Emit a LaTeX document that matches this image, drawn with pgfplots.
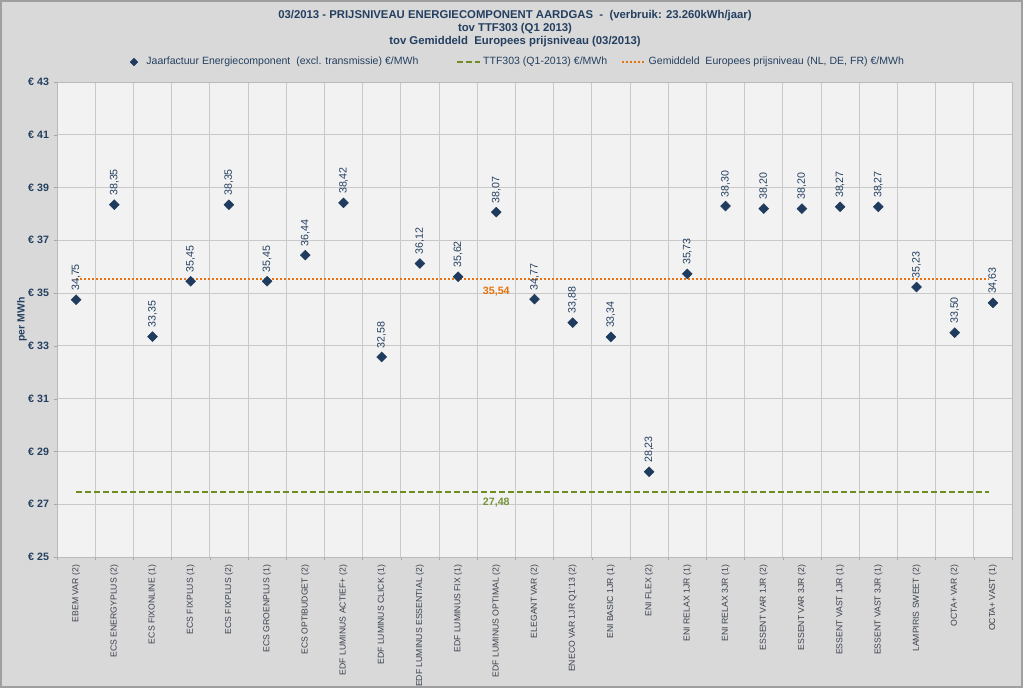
\documentclass[border=0pt]{standalone}
\usepackage{fontspec}
\setmainfont{Liberation Sans}
\usepackage{pgfplots}
\pgfplotsset{compat=1.18}
\definecolor{bgout}{HTML}{D9D9D9}
\definecolor{plotbg}{HTML}{F2F2F2}
\definecolor{gridc}{HTML}{C9C9C9}
\definecolor{navy}{HTML}{1F3B5E}
\definecolor{txt}{HTML}{243F60}
\definecolor{lbl}{HTML}{3A404C}
\definecolor{orng}{HTML}{E8720C}
\definecolor{ttfgreen}{HTML}{6F8B22}
\definecolor{ttflabel}{HTML}{77933C}
\begin{document}
\begin{tikzpicture}
\fill[bgout] (0,0) rectangle (767.25pt,516pt);
\draw[gray!75, line width=1.5pt] (0.75pt,0.75pt) rectangle (766.5pt,515.25pt);
\node[font=\bfseries\fontsize{8.5}{9.75}\selectfont, text=txt, align=center] at (386.25pt,494.25pt)
 {03/2013 - PRIJSNIVEAU ENERGIECOMPONENT AARDGAS \ - \ (verbruik: 23.260kWh/jaar)\\tov TTF303 (Q1 2013)\\tov Gemiddeld \ Europees prijsniveau (03/2013)};
\begin{axis}[
 at={(42.75pt,98.25pt)}, anchor=south west,
 scale only axis, width=716.25pt, height=356.25pt,
 xmin=-0.5, xmax=24.5, ymin=25, ymax=43,
 axis background/.style={fill=plotbg},
 /pgf/number format/assume math mode=true,
 ytick={25,27,...,43},
 yticklabel={\textbf{€ \pgfmathprintnumber{\tick}}},
 yticklabel style={font=\fontsize{8}{9}\selectfont, text=txt},
 ymajorgrids,
 major grid style={gridc, line width=0.6pt},
 minor grid style={gridc, line width=0.6pt},
 xtick={0,...,24},
 xticklabels={EBEM VAR (2),ECS ENERGYPLUS (2),ECS FIXONLINE (1),ECS FIXPLUS (1),ECS FIXPLUS (2),ECS GROENPLUS (1),ECS OPTIBUDGET (2),EDF LUMINUS ACTIEF+ (2),EDF LUMINUS CLICK (1),EDF LUMINUS ESSENTIAL (2),EDF LUMINUS FIX (1),EDF LUMINUS OPTIMAL (2),ELEGANT VAR (2),ENECO VAR 1JR Q1'13 (2),ENI BASIC 1JR (1),ENI FLEX (2),ENI RELAX 1JR (1),ENI RELAX 3JR (1),ESSENT VAR 1JR (2),ESSENT VAR 3JR (2),ESSENT VAST 1JR (1),ESSENT VAST 3JR (1),LAMPIRIS SWEET (2),OCTA+ VAR (2),OCTA+ VAST (1)},
 x tick label style={rotate=90, anchor=east, font=\fontsize{6.5}{7.5}\selectfont, text=lbl},
 major x tick style={draw=none},
 minor xtick={-0.5,0.5,...,24.5},
 xminorgrids,
 xtick pos=bottom, ytick pos=left,
 tick align=outside,
 major tick length=2.5pt, minor tick length=2.5pt,
 tick style={gray!70},
 axis line style={gray!55},
 ylabel={per MWh},
 ylabel style={font=\bfseries\fontsize{7.8}{9}\selectfont, text=txt, at={(axis description cs:-0.0366,0.5)}, anchor=center},
 legend columns=3,
 legend style={draw=none, fill=none, at={(0.483,1.042)}, anchor=center,
   font=\fontsize{7.9}{9}\selectfont, text=txt,
   /tikz/column 2/.style={column sep=26pt},
   /tikz/column 4/.style={column sep=8.5pt}},
]
\addlegendimage{legend image code/.code={\path (-0.05cm,0) (0.3cm,0);
   \path[mark=square*, mark size=2pt, mark options={rotate=45, fill=navy, draw=navy}] plot coordinates {(0.05cm,0cm)};}}
\addlegendentry{Jaarfactuur Energiecomponent \ (excl. transmissie) €/MWh}
\addplot[draw=ttfgreen, line width=1.5pt, dash pattern=on 4.5pt off 2.25pt] coordinates {(0,27.48) (23.9,27.48)};
\addlegendentry{TTF303 (Q1-2013) €/MWh}
\addplot[draw=orng, line width=1.5pt, dash pattern=on 1.5pt off 1.5pt] coordinates {(0,35.54) (23.9,35.54)};
\addlegendentry{Gemiddeld \ Europees prijsniveau (NL, DE, FR) €/MWh}
\addplot[forget plot, only marks, mark=square*, mark size=2.6pt, mark options={rotate=45, fill=navy, draw=navy},
 nodes near coords={\pgfmathprintnumber[fixed,fixed zerofill,precision=2,use comma,assume math mode=true]{\pgfplotspointmeta}},
 every node near coord/.append style={rotate=90, anchor=west, inner xsep=6.5pt, inner ysep=0pt, font=\fontsize{8}{9}\selectfont, text=txt}]
 coordinates {
 (0,34.75) (1,38.35) (2,33.35) (3,35.45) (4,38.35) (5,35.45) (6,36.44) (7,38.42) (8,32.58) (9,36.12)
 (10,35.62) (11,38.07) (12,34.77) (13,33.88) (14,33.34) (15,28.23) (16,35.73) (17,38.30) (18,38.20) (19,38.20)
 (20,38.27) (21,38.27) (22,35.23) (23,33.50) (24,34.63)
 };
\node[font=\bfseries\fontsize{8}{9}\selectfont, text=orng] at (axis cs:11.0,35.54) [yshift=-9.75pt] {35,54};
\node[font=\bfseries\fontsize{8}{9}\selectfont, text=ttflabel] at (axis cs:11.0,27.48) [yshift=-8.5pt] {27,48};
\end{axis}
\pgfresetboundingbox
\path (0,0) rectangle (767.25pt,516pt);
\end{tikzpicture}
\end{document}
